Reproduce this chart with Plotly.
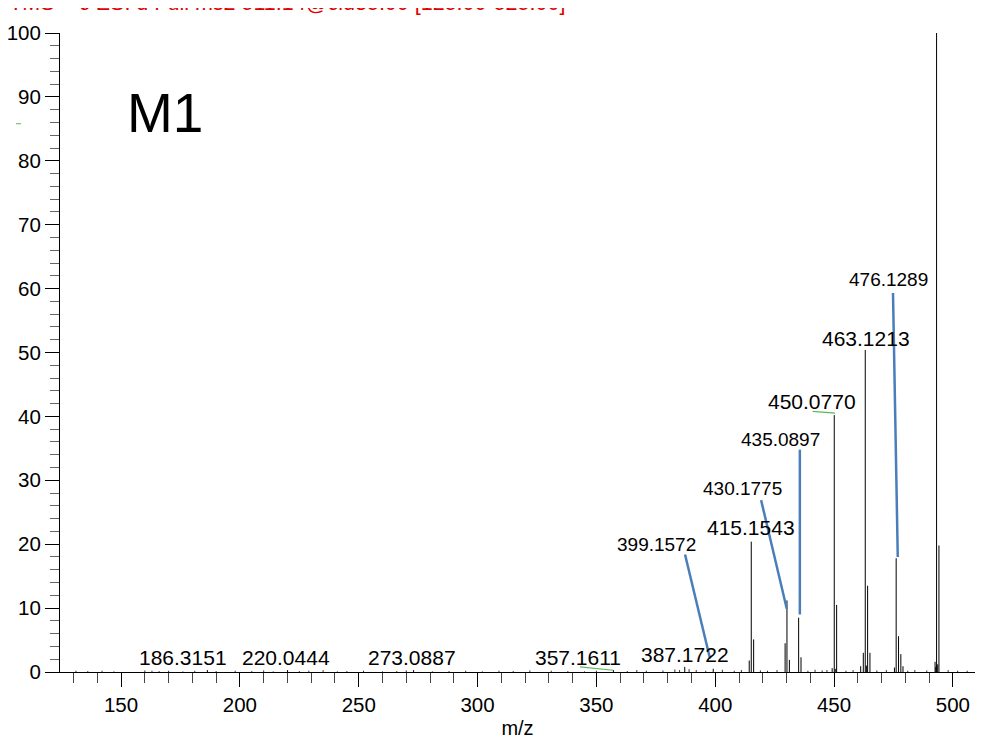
import plotly.graph_objects as go

# ---- data ----
peak_mz = [
    493.1316, 494.13, 492.5, 493.6, 492.8,
    463.1213, 464.12, 462.3, 465.1, 461.2, 463.6,
    450.0770, 451.08, 449.2, 450.5,
    476.1289, 477.13, 478.1, 475.4, 479.0,
    415.1543, 416.16, 414.3,
    430.1775, 429.4, 431.2,
    435.0897, 436.09,
    399.1572, 387.1722, 357.1611, 273.0887, 220.0444, 186.3151,
]
peak_int = [
    100.0, 19.8, 1.6, 1.2, 0.8,
    50.4, 13.5, 3.0, 3.0, 0.9, 1.0,
    40.2, 10.5, 0.6, 0.5,
    17.8, 5.6, 2.8, 0.7, 0.9,
    20.4, 5.1, 1.8,
    11.2, 4.5, 1.9,
    8.5, 2.3,
    0.5, 0.8, 0.3, 0.3, 0.3, 0.3,
]
noise_mz = [131, 136, 142, 147, 160, 163, 166, 170, 176, 181, 190, 198, 205, 210,
            214, 225, 229, 235, 241, 245, 252, 260, 266, 270, 281, 288, 295, 302,
            309, 315, 322, 331, 338, 345, 350, 363, 367, 371, 378, 383, 385, 389,
            392, 396, 403, 408, 411, 419, 422, 426, 439, 442, 445, 447, 455, 458,
            468, 472, 481, 484, 489, 498, 502, 506]
noise_int = [0.2, 0.15, 0.2, 0.1, 0.25, 0.2, 0.15, 0.2, 0.1, 0.2, 0.15, 0.2, 0.15, 0.25,
             0.1, 0.15, 0.2, 0.3, 0.1, 0.15, 0.2, 0.1, 0.15, 0.25, 0.1, 0.15, 0.2, 0.1,
             0.2, 0.15, 0.25, 0.2, 0.15, 0.1, 0.2, 0.15, 0.3, 0.2, 0.25, 0.4, 0.3, 0.45,
             0.3, 0.2, 0.35, 0.2, 0.3, 0.25, 0.2, 0.3, 0.2, 0.35, 0.25, 0.3, 0.2, 0.3,
             0.25, 0.3, 0.2, 0.3, 0.25, 0.3, 0.2, 0.2]

label_text = ["493.1316", "463.1213", "450.0770", "476.1289", "435.0897", "430.1775",
              "415.1543", "399.1572", "387.1722", "357.1611", "273.0887", "220.0444",
              "186.3151"]
label_x = [493.2, 463.35, 440.8, 472.7, 427.3, 411.4, 415.2, 375.2, 387.1, 342.4,
           272.3, 219.3, 176.2]
label_y = [102.1, 52.2, 42.3, 61.4, 36.45, 28.7, 22.6, 20.0, 2.8, 2.25, 2.25, 2.25, 2.25]
label_size = [21, 21, 21, 19, 19, 19, 21, 19, 21, 21, 21, 21, 21]

blue_lines = [  # x0, y0, x1, y1
    (387.3, 18.4, 397.8, 2.1),
    (419.3, 26.9, 430.1, 9.9),
    (435.6, 34.8, 435.6, 9.0),
    (474.8, 59.3, 476.8, 18.0),
]
green_lines = [
    (343.1, 0.8, 357.1, 0.27),
    (441.0, 40.8, 450.4, 40.5),
]

header = "FTMS + c ESI d Full ms2 511.14@cid35.00 [125.00-525.00]"
FONT = "Arial, Liberation Sans, sans-serif"

# ---- build ----
def stems(xs, ys):
    px, py = [], []
    for x, y in zip(xs, ys):
        px += [x, x, None]
        py += [0, y, None]
    return px, py

fig = go.Figure()
nx, ny = stems(noise_mz, noise_int)
fig.add_trace(go.Scatter(x=nx, y=ny, mode="lines", line=dict(color="#333333", width=1),
                         hoverinfo="skip", cliponaxis=False, showlegend=False))
sx, sy = stems(peak_mz, peak_int)
fig.add_trace(go.Scatter(x=sx, y=sy, mode="lines", line=dict(color="black", width=1),
                         cliponaxis=False, showlegend=False))

for t, x, y, s in zip(label_text, label_x, label_y, label_size):
    fig.add_annotation(x=x, y=y, text=t, showarrow=False, xanchor="center", yanchor="middle",
                       font=dict(size=s, color="black", family=FONT))

for x0, y0, x1, y1 in blue_lines:
    fig.add_shape(type="line", x0=x0, y0=y0, x1=x1, y1=y1,
                  line=dict(color="#4a7ebb", width=2.5))
for x0, y0, x1, y1 in green_lines:
    fig.add_shape(type="line", x0=x0, y0=y0, x1=x1, y1=y1,
                  line=dict(color="#5cb85c", width=1.2))

fig.add_shape(type="line", xref="paper", yref="paper", x0=-0.048, x1=-0.0426,
              y0=0.858, y1=0.858, line=dict(color="#5cb85c", width=1))

fig.add_annotation(x=168.3, y=87.5, text="M1", showarrow=False, xanchor="center",
                   yanchor="middle", font=dict(size=55, color="black", family=FONT))

fig.add_annotation(xref="paper", yref="paper", x=(567 - 60) / 915, y=1.047,
                   xanchor="right", yanchor="middle", text=header, showarrow=False,
                   font=dict(size=21.5, color="#e00000", family=FONT))

fig.update_layout(
    width=978, height=732,
    margin=dict(l=52, r=11, t=25, b=68, autoexpand=False),
    paper_bgcolor="white", plot_bgcolor="white",
    font=dict(family=FONT, color="black", size=20),
    xaxis=dict(range=[124.3, 509.3], showgrid=False, zeroline=False, automargin=False,
               showline=True, linecolor="black", linewidth=1,
               ticks="outside", ticklen=14, tickcolor="black", tickwidth=1,
               tick0=0, dtick=50, tickfont=dict(size=20.5),
               minor=dict(ticks="outside", ticklen=10, dtick=10, tick0=0,
                          tickcolor="#444444", tickwidth=1),
               title=dict(text="m/z", font=dict(size=20), standoff=6)),
    yaxis=dict(range=[0, 100], showgrid=False, zeroline=False, automargin=False,
               showline=True, linecolor="black", linewidth=1,
               ticks="outside", ticklen=14, tickcolor="black", tickwidth=1,
               tick0=0, dtick=10, tickfont=dict(size=20.5), ticklabelstandoff=0,
               minor=dict(ticks="outside", ticklen=9, dtick=2, tick0=0,
                          tickcolor="#666666", tickwidth=1)),
)

fig.write_html("out.html")
